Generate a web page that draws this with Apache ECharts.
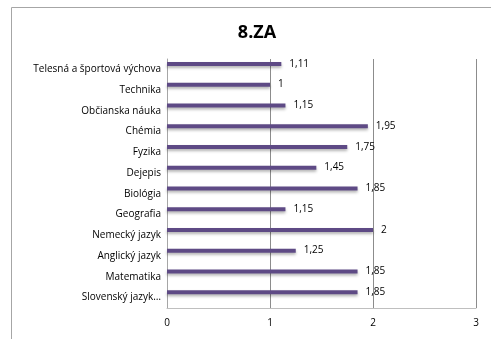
<!DOCTYPE html>
<html>
<head>
<meta charset="utf-8">
<script src="https://cdn.jsdelivr.net/npm/echarts@6/dist/echarts.min.js"></script>
<style>
  html, body { margin: 0; padding: 0; background: #fff; }
  #chart { width: 491px; height: 339px; }
</style>
</head>
<body>
<div id="chart"></div>
<script>
// Subjects, listed from the bottom of the axis to the top
const subjects = [
  'Slovenský jazyk…', 'Matematika', 'Anglický jazyk', 'Nemecký jazyk',
  'Geografia', 'Biológia', 'Dejepis', 'Fyzika', 'Chémia',
  'Občianska náuka', 'Technika', 'Telesná a športová výchova'
];
// Average grade per subject
const grades = [1.85, 1.85, 1.25, 2, 1.15, 1.85, 1.45, 1.75, 1.95, 1.15, 1, 1.11];
const xTicks = [0, 1, 2, 3];
const title = '8.ZA';

const font = '"Open Sans", "Noto Sans", sans-serif';
const chart = echarts.init(document.getElementById('chart'));

chart.setOption({
  animation: false,
  title: {
    text: title,
    left: 252,
    textAlign: 'center',
    top: 19,
    textStyle: { fontFamily: font, fontSize: 18, fontWeight: 'bold', color: '#000' }
  },
  graphic: [{
    type: 'rect',
    shape: { x: 11.5, y: 7.5, width: 600, height: 600 },
    style: { fill: 'none', stroke: '#a6a6a6', lineWidth: 1 },
    silent: true
  }],
  grid: { left: 167, right: 15, top: 59, bottom: 31 },
  xAxis: {
    type: 'value',
    min: xTicks[0],
    max: xTicks[xTicks.length - 1],
    interval: 1,
    axisLine: { show: true, lineStyle: { color: '#bfbfbf' } },
    axisTick: { show: false },
    axisLabel: { fontFamily: font, fontSize: 10, color: '#000', margin: 10 },
    splitLine: { show: true, lineStyle: { color: '#8c8c8c', width: 1 } }
  },
  yAxis: {
    type: 'category',
    data: subjects,
    axisLine: { show: true, lineStyle: { color: '#a6a6a6' } },
    axisTick: { show: false },
    axisLabel: { fontFamily: font, fontSize: 10, color: '#000', margin: 6 }
  },
  series: [
    {
      type: 'bar',
      data: grades,
      barWidth: 4,
      barGap: '175%',
      itemStyle: {
        color: '#5e4a85',
        shadowColor: 'rgba(0,0,0,0.3)',
        shadowBlur: 3,
        shadowOffsetY: 2
      },
      label: {
        show: true,
        position: 'right',
        distance: 8,
        fontFamily: font,
        fontSize: 10,
        color: '#000',
        formatter: p => String(p.value).replace('.', ',')
      }
    },
    {
      type: 'bar',
      data: grades.map(() => '-'),
      barWidth: 4,
      silent: true
    }
  ]
});
</script>
</body>
</html>
